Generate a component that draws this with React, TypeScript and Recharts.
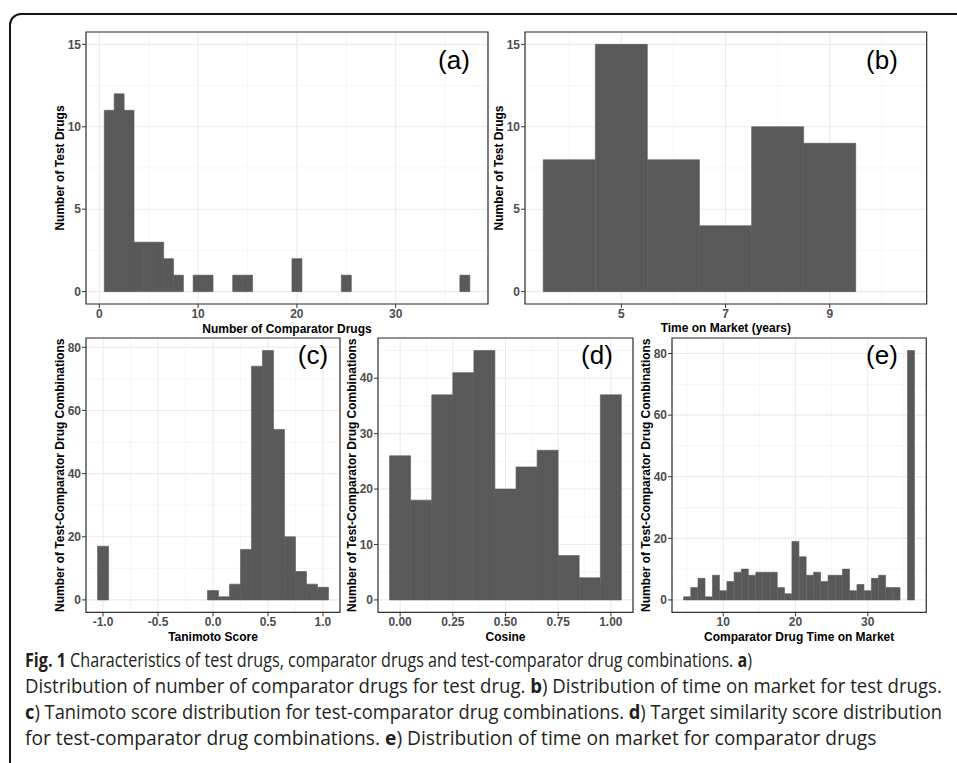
import React, { useLayoutEffect, useRef, useState } from "react";
import { BarChart, Bar, XAxis, YAxis, CartesianGrid, ReferenceArea } from "recharts";

// (a) number of comparator drugs per test drug (bin width 1)
const compBins = [1, 2, 3, 4, 5, 6, 7, 8, 9, 10, 11, 12, 13, 14, 15, 16, 17, 18, 19, 20, 21, 22, 23, 24, 25, 26, 27, 28, 29, 30, 31, 32, 33, 34, 35, 36, 37];
const compCounts = [11, 12, 11, 3, 3, 3, 2, 1, 0, 1, 1, 0, 0, 1, 1, 0, 0, 0, 0, 2, 0, 0, 0, 0, 1, 0, 0, 0, 0, 0, 0, 0, 0, 0, 0, 0, 1];

// (b) time on market of test drugs (years)
const marketBins = [4, 5, 6, 7, 8, 9];
const marketCounts = [8, 15, 8, 4, 10, 9];

// (c) tanimoto score
const tanimotoBins = [-1.0, 0.0, 0.1, 0.2, 0.3, 0.4, 0.5, 0.6, 0.7, 0.8, 0.9, 1.0];
const tanimotoCounts = [17, 3, 1, 5, 16, 74, 79, 54, 20, 9, 5, 4];

// (d) cosine target similarity
const cosineBins = [0.0, 0.1, 0.2, 0.3, 0.4, 0.5, 0.6, 0.7, 0.8, 0.9, 1.0];
const cosineCounts = [26, 18, 37, 41, 45, 20, 24, 27, 8, 4, 37];

// (e) comparator drug time on market
const compTimeBins = [5, 6, 7, 8, 9, 10, 11, 12, 13, 14, 15, 16, 17, 18, 19, 20, 21, 22, 23, 24, 25, 26, 27, 28, 29, 30, 31, 32, 33, 34, 35, 36];
const compTimeCounts = [1, 4, 7, 1, 8, 3, 6, 9, 10, 8, 9, 9, 9, 4, 2, 19, 14, 8, 9, 6, 8, 8, 10, 3, 5, 3, 7, 8, 4, 4, 0, 81];

const FONT = "'Liberation Sans', Arial, Helvetica, sans-serif";
const CAP_FONT = "'Open Sans', 'Noto Sans', sans-serif";
const BAR = "#595959";
const YW = 44;
const XH = 30;
const PAD = 4;

const toRows = (xs: number[], ns: number[]) => xs.map((x, i) => ({ x, n: ns[i] }));

type PanelProps = {
  rows: { x: number; n: number }[];
  box: [number, number, number, number];
  xDomain: [number, number];
  yDomain: [number, number];
  xTicks: number[];
  xMinor: number[];
  yTicks: number[];
  yMinor: number[];
  xFmt?: (v: number) => string;
  xTitle: string;
  yTitle: string;
};

const tickStyle = { fontSize: 12, fontWeight: 700, fill: "#4d4d4d", fontFamily: FONT };

function Panel(p: PanelProps) {
  const [x0, y0, x1, y1] = p.box;
  const w = x1 - x0 + YW + 2 * PAD;
  const h = y1 - y0 + XH + 2 * PAD;
  return (
    <div style={{ position: "absolute", left: x0 - YW - PAD, top: y0 - PAD }}>
      <BarChart
        width={w}
        height={h}
        data={p.rows}
        margin={{ top: PAD, right: PAD, bottom: PAD, left: PAD }}
        barCategoryGap={0}
        barGap={0}
      >
        <XAxis xAxisId="m" dataKey="x" type="number" domain={p.xDomain} ticks={p.xMinor} allowDataOverflow hide />
        <YAxis yAxisId="m" type="number" domain={p.yDomain} ticks={p.yMinor} allowDataOverflow hide />
        <CartesianGrid xAxisId="m" yAxisId="m" stroke="#f2f2f2" strokeWidth={0.7} />
        <CartesianGrid stroke="#ebebeb" strokeWidth={1.1} />
        <XAxis
          dataKey="x"
          type="number"
          domain={p.xDomain}
          ticks={p.xTicks}
          interval={0}
          allowDataOverflow
          height={XH}
          axisLine={false}
          tickSize={4}
          tickMargin={1}
          tickLine={{ stroke: "#333" }}
          tick={tickStyle}
          tickFormatter={p.xFmt}
          label={{
            content: (lp: any) => {
              const vb = lp.viewBox || {};
              return (
                <text x={vb.x + vb.width / 2} y={vb.y + 28.5} textAnchor="middle" fontSize={12} fontWeight={700} fill="#000" fontFamily={FONT}>
                  {p.xTitle}
                </text>
              );
            },
          }}
        />
        <YAxis
          type="number"
          domain={p.yDomain}
          ticks={p.yTicks}
          interval={0}
          allowDataOverflow
          width={YW}
          axisLine={false}
          tickSize={4}
          tickMargin={1}
          tickLine={{ stroke: "#333" }}
          tick={tickStyle}
          label={{
            content: (lp: any) => {
              const vb = lp.viewBox || {};
              const cx = vb.x + vb.width - 26;
              const cy = vb.y + vb.height / 2;
              return (
                <text x={cx} y={cy} transform={`rotate(-90 ${cx} ${cy})`} textAnchor="middle" dominantBaseline="central" fontSize={12} fontWeight={700} fill="#000" fontFamily={FONT}>
                  {p.yTitle}
                </text>
              );
            },
          }}
        />
        <Bar dataKey="n" fill={BAR} stroke={BAR} strokeWidth={0.6} isAnimationActive={false} />
        <ReferenceArea x1={p.xDomain[0]} x2={p.xDomain[1]} y1={p.yDomain[0]} y2={p.yDomain[1]} fill="none" fillOpacity={0} stroke="#333" strokeWidth={1.2} ifOverflow="visible" />
      </BarChart>
    </div>
  );
}

const panelLabels = [
  { t: "(a)", x: 454, y: 62 },
  { t: "(b)", x: 882, y: 62 },
  { t: "(c)", x: 313, y: 357 },
  { t: "(d)", x: 597, y: 357 },
  { t: "(e)", x: 882, y: 357 },
];

type Seg = [string, boolean];
const captionLines: Seg[][] = [
  [["Fig. 1", true], [" Characteristics of test drugs, comparator drugs and test-comparator drug combinations. ", false], ["a", true], [")", false]],
  [["Distribution of number of comparator drugs for test drug. ", false], ["b", true], [") Distribution of time on market for test drugs.", false]],
  [["c", true], [") Tanimoto score distribution for test-comparator drug combinations. ", false], ["d", true], [") Target similarity score distribution", false]],
  [["for test-comparator drug combinations. ", false], ["e", true], [") Distribution of time on market for comparator drugs", false]],
];
const captionEnds = [752, 942, 942, 876];
const captionTops = [647, 673, 699, 725];

function CaptionLine({ segs, top, width }: { segs: Seg[]; top: number; width: number }) {
  const ref = useRef<HTMLDivElement>(null);
  const [k, setK] = useState(1);
  useLayoutEffect(() => {
    const el = ref.current;
    if (el && el.offsetWidth > 0) setK(width / el.offsetWidth);
  }, [width]);
  return (
    <div
      ref={ref}
      style={{
        position: "absolute",
        left: 25,
        top,
        whiteSpace: "pre",
        fontSize: 20,
        lineHeight: "26px",
        fontFamily: CAP_FONT,
        color: "#231f20",
        transform: `scaleX(${k})`,
        transformOrigin: "0 0",
      }}
    >
      {segs.map(([t, b], j) => (
        <span key={j} style={{ fontWeight: b ? 700 : 400 }}>
          {t}
        </span>
      ))}
    </div>
  );
}

const fmt1 = (v: number) => v.toFixed(1);
const fmt2 = (v: number) => v.toFixed(2);
const comboY = "Number of Test-Comparator Drug Combinations";

export default function App() {
  return (
    <div style={{ position: "absolute", left: 0, top: 0, width: 957, height: 763, background: "#fff", overflow: "hidden" }}>
      <div style={{ position: "absolute", left: 9, top: 13, width: 980, height: 790, border: "2.5px solid #151515", borderRadius: 12, boxSizing: "border-box" }} />
      <Panel
        rows={toRows(compBins, compCounts)}
        box={[86, 32, 488, 304]}
        xDomain={[-1.35, 39.35]}
        yDomain={[-0.75, 15.75]}
        xTicks={[0, 10, 20, 30]}
        xMinor={[5, 15, 25, 35]}
        yTicks={[0, 5, 10, 15]}
        yMinor={[2.5, 7.5, 12.5]}
        xTitle="Number of Comparator Drugs"
        yTitle="Number of Test Drugs"
      />
      <Panel
        rows={toRows(marketBins, marketCounts)}
        box={[525, 32, 926.7, 304]}
        xDomain={[3.15, 10.86]}
        yDomain={[-0.75, 15.75]}
        xTicks={[5, 7, 9]}
        xMinor={[4, 6, 8, 10]}
        yTicks={[0, 5, 10, 15]}
        yMinor={[2.5, 7.5, 12.5]}
        xTitle="Time on Market (years)"
        yTitle="Number of Test Drugs"
      />
      <Panel
        rows={toRows(tanimotoBins, tanimotoCounts)}
        box={[86, 338.3, 340, 612.7]}
        xDomain={[-1.155, 1.155]}
        yDomain={[-3.95, 82.95]}
        xTicks={[-1, -0.5, 0, 0.5, 1]}
        xMinor={[-0.75, -0.25, 0.25, 0.75]}
        yTicks={[0, 20, 40, 60, 80]}
        yMinor={[10, 30, 50, 70]}
        xFmt={fmt1}
        xTitle="Tanimoto Score"
        yTitle={comboY}
      />
      <Panel
        rows={toRows(cosineBins, cosineCounts)}
        box={[378.3, 338.3, 633.3, 612.7]}
        xDomain={[-0.105, 1.105]}
        yDomain={[-2.25, 47.25]}
        xTicks={[0, 0.25, 0.5, 0.75, 1]}
        xMinor={[0.125, 0.375, 0.625, 0.875]}
        yTicks={[0, 10, 20, 30, 40]}
        yMinor={[5, 15, 25, 35, 45]}
        xFmt={fmt2}
        xTitle="Cosine"
        yTitle={comboY}
      />
      <Panel
        rows={toRows(compTimeBins, compTimeCounts)}
        box={[671.7, 338.3, 926, 612.7]}
        xDomain={[2.9, 38.1]}
        yDomain={[-4.05, 85.05]}
        xTicks={[10, 20, 30]}
        xMinor={[5, 15, 25, 35]}
        yTicks={[0, 20, 40, 60, 80]}
        yMinor={[10, 30, 50, 70]}
        xTitle="Comparator Drug Time on Market"
        yTitle={comboY}
      />
      <svg width={957} height={763} style={{ position: "absolute", left: 0, top: 0, pointerEvents: "none" }}>
        {panelLabels.map((l) => (
          <text key={l.t} x={l.x} y={l.y + 7} textAnchor="middle" fontSize={26} fontFamily={FONT} fill="#000">
            {l.t}
          </text>
        ))}
      </svg>
      {captionLines.map((segs, i) => (
        <CaptionLine key={i} segs={segs} top={captionTops[i]} width={captionEnds[i] - 25} />
      ))}
    </div>
  );
}
